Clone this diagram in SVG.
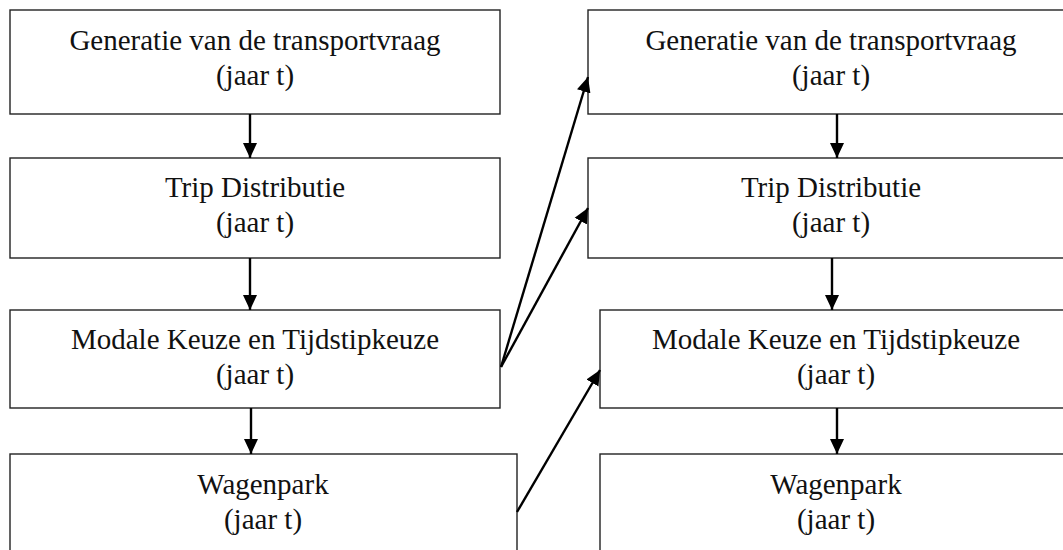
<svg xmlns="http://www.w3.org/2000/svg" width="1063" height="550" viewBox="0 0 1063 550">
<defs>
<marker id="ah" markerWidth="15" markerHeight="15" viewBox="0 0 15 15" refX="15" refY="7.5" orient="auto" markerUnits="userSpaceOnUse">
<path d="M0,0.5 L15,7.5 L0,14.5 Z" fill="#000"/>
</marker>
<style>
.box{fill:#fff;stroke:#222;stroke-width:1.4}
.t{font-family:"Liberation Serif","Times New Roman",serif;font-size:29px;fill:#111;text-anchor:middle}
.c{stroke:#000;stroke-width:2.4;fill:none;marker-end:url(#ah)}
</style>
</defs>
<rect width="1063" height="550" fill="#fff"/>
<g id="L1"><rect class="box" x="10" y="10" width="490" height="104"/><text class="t" x="255" y="50">Generatie van de transportvraag</text><text class="t" x="255" y="85">(jaar t)</text></g>
<g id="L2"><rect class="box" x="10" y="158" width="490" height="100"/><text class="t" x="255" y="197">Trip Distributie</text><text class="t" x="255" y="232">(jaar t)</text></g>
<g id="L3"><rect class="box" x="10" y="310" width="490" height="98"/><text class="t" x="255" y="349">Modale Keuze en Tijdstipkeuze</text><text class="t" x="255" y="384">(jaar t)</text></g>
<g id="L4"><rect class="box" x="10" y="454" width="507" height="110"/><text class="t" x="263" y="494">Wagenpark</text><text class="t" x="263" y="529">(jaar t)</text></g>
<g id="R1"><rect class="box" x="588" y="10" width="490" height="104"/><text class="t" x="831" y="50">Generatie van de transportvraag</text><text class="t" x="831" y="85">(jaar t)</text></g>
<g id="R2"><rect class="box" x="588" y="158" width="490" height="100"/><text class="t" x="831" y="197">Trip Distributie</text><text class="t" x="831" y="232">(jaar t)</text></g>
<g id="R3"><rect class="box" x="600" y="310" width="480" height="98"/><text class="t" x="836" y="349">Modale Keuze en Tijdstipkeuze</text><text class="t" x="836" y="384">(jaar t)</text></g>
<g id="R4"><rect class="box" x="600" y="454" width="480" height="110"/><text class="t" x="836" y="494">Wagenpark</text><text class="t" x="836" y="529">(jaar t)</text></g>
<g id="connectors">
<line class="c" x1="250" y1="114" x2="250" y2="158"/>
<line class="c" x1="250" y1="258" x2="250" y2="310"/>
<line class="c" x1="251" y1="408" x2="251" y2="454"/>
<line class="c" x1="837" y1="114" x2="837" y2="158"/>
<line class="c" x1="832" y1="258" x2="832" y2="310"/>
<line class="c" x1="837" y1="408" x2="837" y2="454"/>
<line class="c" x1="501" y1="367" x2="588" y2="77"/>
<line class="c" x1="501" y1="367" x2="588" y2="208"/>
<line class="c" x1="517" y1="512" x2="600" y2="370"/>
</g>
</svg>
